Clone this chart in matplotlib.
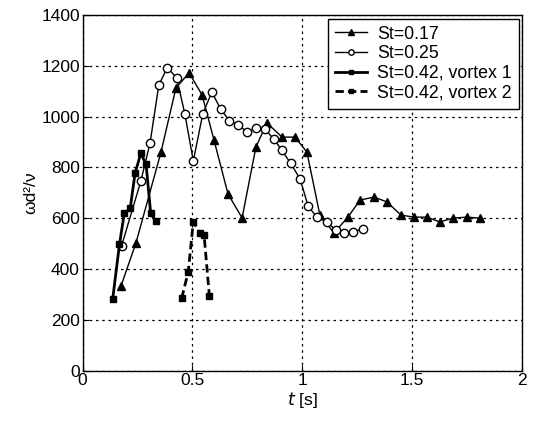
import matplotlib
matplotlib.use("Agg")
import matplotlib.pyplot as plt

plt.rcParams['font.family'] = ['Liberation Sans', 'DejaVu Sans']

t_017 = [0.175, 0.243, 0.357, 0.425, 0.485, 0.544, 0.598, 0.662, 0.726, 0.789, 0.839,
         0.908, 0.967, 1.021, 1.08, 1.144, 1.208, 1.262, 1.326, 1.385, 1.449, 1.508,
         1.567, 1.626, 1.685, 1.749, 1.808]
v_017 = [333, 502, 860, 1113, 1172, 1085, 908, 695, 601, 880, 975,
         919, 919, 860, 612, 542, 604, 671, 683, 664, 612, 604,
         604, 585, 600, 604, 600]

t_025 = [0.178, 0.265, 0.307, 0.347, 0.386, 0.428, 0.466, 0.504, 0.547, 0.588, 0.629,
         0.668, 0.709, 0.75, 0.789, 0.83, 0.871, 0.906, 0.947, 0.99, 1.027, 1.068,
         1.111, 1.153, 1.19, 1.232, 1.275]
v_025 = [492, 745, 895, 1124, 1193, 1153, 1009, 825, 1010, 1096, 1029,
         984, 967, 938, 954, 950, 911, 868, 816, 754, 646, 603,
         586, 552, 540, 547, 557]

t_042a = [0.137, 0.168, 0.19, 0.217, 0.239, 0.265, 0.289, 0.31, 0.334]
v_042a = [280, 497, 619, 639, 777, 855, 813, 620, 587]

t_042b = [0.451, 0.481, 0.504, 0.535, 0.553, 0.577]
v_042b = [284, 389, 586, 540, 534, 295]

fig = plt.figure(figsize=(5.36, 4.22), dpi=100)
ax = fig.add_axes([0.154, 0.122, 0.82, 0.8425])

ax.plot(t_017, v_017, '-', color='black', lw=1.0, marker='^', ms=6,
        mfc='black', mec='black', label='St=0.17')
ax.plot(t_025, v_025, '-', color='black', lw=1.0, marker='o', ms=6,
        mfc='white', mec='black', mew=1.0, label='St=0.25')
ax.plot(t_042a, v_042a, '-', color='black', lw=2.0, marker='s', ms=5,
        mfc='black', mec='black', label='St=0.42, vortex 1')
ax.plot(t_042b, v_042b, '--', color='black', lw=2.0, marker='s', ms=5,
        mfc='black', mec='black', dashes=(3, 1.5), label='St=0.42, vortex 2')

ax.set_xlim(0, 2)
ax.set_ylim(0, 1400)
ax.set_xticks([0, 0.5, 1, 1.5, 2])
ax.set_xticklabels(['0', '0.5', '1', '1.5', '2'])
ax.set_yticks(range(0, 1401, 200))
ax.grid(True, color='black', linestyle=(0, (2, 3)), linewidth=0.9)
ax.tick_params(direction='in', labelsize=12.5, length=4, pad=2)
for s in ax.spines.values():
    s.set_linewidth(1.0)

ax.set_xlabel('$t$ [s]', fontsize=12.5, labelpad=1)
ax.set_ylabel('ωd²/ν', fontsize=12.5, labelpad=2)

leg = ax.legend(loc='upper right', fontsize=12.8, frameon=True, fancybox=False,
                edgecolor='black', framealpha=1, handlelength=1.8,
                borderpad=0.4, labelspacing=0.15, handletextpad=0.55,
                borderaxespad=0.2, markerscale=0.65)
leg.get_frame().set_linewidth(1.0)

fig.savefig('out.png', dpi=100)
